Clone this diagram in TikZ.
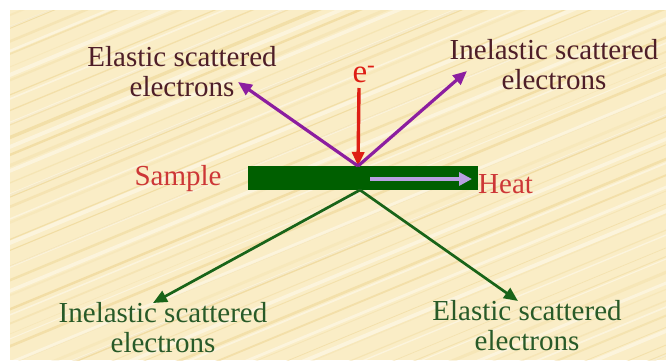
\documentclass[tikz,border=0pt]{standalone}
\usepackage{fontspec}
\setmainfont{Liberation Serif}
\usetikzlibrary{arrows.meta}
\definecolor{bgbeige}{RGB}{250,237,198}
\definecolor{streak}{RGB}{236,210,140}
\definecolor{maroon}{RGB}{78,30,40}
\definecolor{violetarrow}{RGB}{140,30,160}
\definecolor{redarrow}{RGB}{222,30,20}
\definecolor{labelred}{RGB}{205,55,55}
\definecolor{bargreen}{RGB}{0,95,0}
\definecolor{arrowgreen}{RGB}{25,100,25}
\definecolor{textgreen}{RGB}{40,90,40}
\definecolor{heatlav}{RGB}{185,160,225}
\begin{document}
\begin{tikzpicture}[x=1pt,y=-1pt,
  lbl/.style={font=\fontsize{29}{30}\selectfont, align=center, inner sep=0pt},
  tiparrow/.style={-{Triangle[length=14pt,width=12pt]}},
  purplearrow/.style={tiparrow, draw=violetarrow, line width=3.2pt},
  greenarrow/.style={tiparrow, draw=arrowgreen, line width=2.7pt},
]
\useasboundingbox (0,0) rectangle (666,360);
\fill[white] (0,0) rectangle (666,360);
\fill[bgbeige] (10,10) rectangle (666,360);
\begin{scope}
\clip (10,10) rectangle (666,360);
\pgfmathsetseed{7}
\foreach \c in {0,14,...,980}{
  \pgfmathsetmacro{\w}{0.6+2.8*rnd}
  \pgfmathsetmacro{\o}{0.15+0.45*rnd}
  \pgfmathsetmacro{\d}{6*rnd}
  \draw[streak, line width=\w pt, opacity=\o] (0,\c+\d) -- (700,\c+\d-290);
}
\foreach \c in {7,31,...,980}{
  \pgfmathsetmacro{\w}{1+3*rnd}
  \draw[white, line width=\w pt, opacity=0.4] (0,\c) -- (700,\c-290);
}
\end{scope}

% sample bar
\node[fill=bargreen, minimum width=230pt, minimum height=24pt, inner sep=0pt] (bar) at (363,178) {};
\coordinate (hit) at (358,166);
\coordinate (hitb) at (360,190);

% labels
\node[lbl, text=maroon] (elup) at (182,72) {Elastic scattered\\electrons};
\node[lbl, text=maroon] (inup) at (554,65) {Inelastic scattered\\electrons};
\node[lbl, text=textgreen] (inlow) at (163,328) {Inelastic scattered\\electrons};
\node[lbl, text=textgreen] (ellow) at (527,326) {Elastic scattered\\electrons};
\node[lbl, text=labelred, anchor=base] (sample) at (178,185) {Sample};
\node[lbl, text=labelred, anchor=base west] (heat) at (478,193) {Heat};
\node[inner sep=0pt, text=redarrow, anchor=base, font=\fontsize{33}{33}\selectfont] (elec) at (364,82) {e\textsuperscript{-}};

% arrow ends
\coordinate (estart) at (359,88);
\coordinate (ul) at (238,82);
\coordinate (ur) at (467,71);
\coordinate (ll) at (153,303);
\coordinate (lr) at (518,301);
\coordinate (hs) at (370,179);
\coordinate (he) at (472,179);

\draw[tiparrow, draw=redarrow, line width=3.4pt] (estart) -- (hit);
\draw[purplearrow] (hit) -- (ul);
\draw[purplearrow] (hit) -- (ur);
\draw[greenarrow] (hitb) -- (ll);
\draw[greenarrow] (hitb) -- (lr);
\draw[-{Triangle[length=13pt,width=13pt]}, draw=heatlav, line width=4pt] (hs) -- (he);
\end{tikzpicture}
\end{document}
